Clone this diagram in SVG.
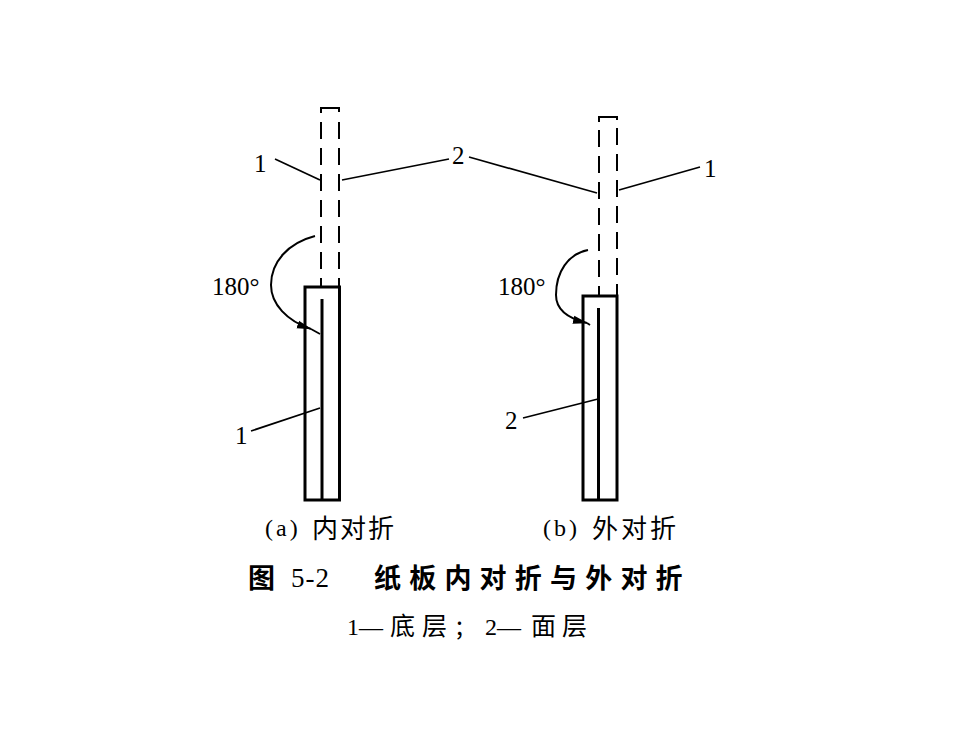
<svg xmlns="http://www.w3.org/2000/svg" width="980" height="735" viewBox="0 0 980 735">
<style>
.box{fill:none;stroke:#000;stroke-width:3}
.inner{fill:none;stroke:#000;stroke-width:3}
.dash{fill:none;stroke:#000;stroke-width:2;stroke-dasharray:17 9}
.cap{fill:none;stroke:#000;stroke-width:2}
.lead{fill:none;stroke:#000;stroke-width:1.700}
.arc{fill:none;stroke:#000;stroke-width:2}
.t{font-family:"Liberation Serif","Noto Sans CJK SC",serif;fill:#000;font-size:25px}
.s{font-size:24px;letter-spacing:3px}
.c{font-family:"Noto Sans CJK SC","Liberation Sans",sans-serif;fill:#000}
</style>
<defs>
<marker id="ah" markerUnits="userSpaceOnUse" markerWidth="16" markerHeight="10" refX="14" refY="5" orient="auto"><path d="M0 1 L15 5 L0 9 Z" fill="#000"/></marker>
</defs>
<g id="a-board">
<path class="cap" d="M321 113V108H339V112"/>
<path class="dash" d="M321 122V287M339 122V287"/>
<rect class="box" x="305" y="287" width="34.500" height="213"/>
<path class="inner" d="M322 299V500"/>
</g>
<g id="b-board">
<path class="cap" d="M599 122V117H617V120"/>
<path class="dash" d="M599 130V296M617 128V296"/>
<rect class="box" x="583" y="296" width="34" height="204"/>
<path class="inner" d="M598.500 308V500"/>
</g>
<g id="connectors">
<path class="lead" d="M275 159L320 180"/>
<path class="lead" d="M342 180L449 159"/>
<path class="lead" d="M469 157L597 193"/>
<path class="lead" d="M700 167L619 190"/>
<path class="lead" d="M251 431L320 408"/>
<path class="lead" d="M523 418L598 399"/>
<path class="arc" d="M315 236C288 243 271 262 271 285C271 304 287 321 311 329" marker-end="url(#ah)"/>
<path class="lead" d="M311 329L320 334"/>
<path class="arc" d="M588 250C568 254 556 272 556 295C556 308 566 318 587 323" marker-end="url(#ah)"/>
<path class="lead" d="M587 323L590 325"/>
</g>
<g id="label-1-a"><text class="t" x="254" y="172">1</text></g>
<g id="label-2-top"><text class="t" x="452" y="164">2</text></g>
<g id="label-1-b"><text class="t" x="704" y="177">1</text></g>
<g id="label-180-a"><text class="t" x="212" y="295">180°</text></g>
<g id="label-180-b"><text class="t" x="498" y="295">180°</text></g>
<g id="label-1-lower"><text class="t" x="235" y="444">1</text></g>
<g id="label-2-lower"><text class="t" x="505" y="429">2</text></g>
<g id="caption-a"><text class="t s" x="265" y="536">(a)</text><text class="c" x="312" y="538" font-size="26" letter-spacing="2">内对折</text></g>
<g id="caption-b"><text class="t s" x="543" y="536">(b)</text><text class="c" x="592" y="538" font-size="26" letter-spacing="3">外对折</text></g>
<g id="title"><text class="c" x="248" y="588" font-size="27" font-weight="700">图</text><text class="t" x="291" y="587" style="font-size:27px;letter-spacing:1px">5-2</text><text class="c" x="374" y="588" font-size="27" font-weight="700" letter-spacing="8.200">纸板内对折与外对折</text></g>
<g id="legend"><text class="t" x="347" y="635" style="font-size:24px">1—</text><text class="c" x="390" y="635" font-size="25" letter-spacing="7">底层</text><text class="c" x="456" y="635" font-size="25">;</text><text class="t" x="485" y="635" style="font-size:24px">2—</text><text class="c" x="531" y="635" font-size="25" letter-spacing="6">面层</text></g>
</svg>
